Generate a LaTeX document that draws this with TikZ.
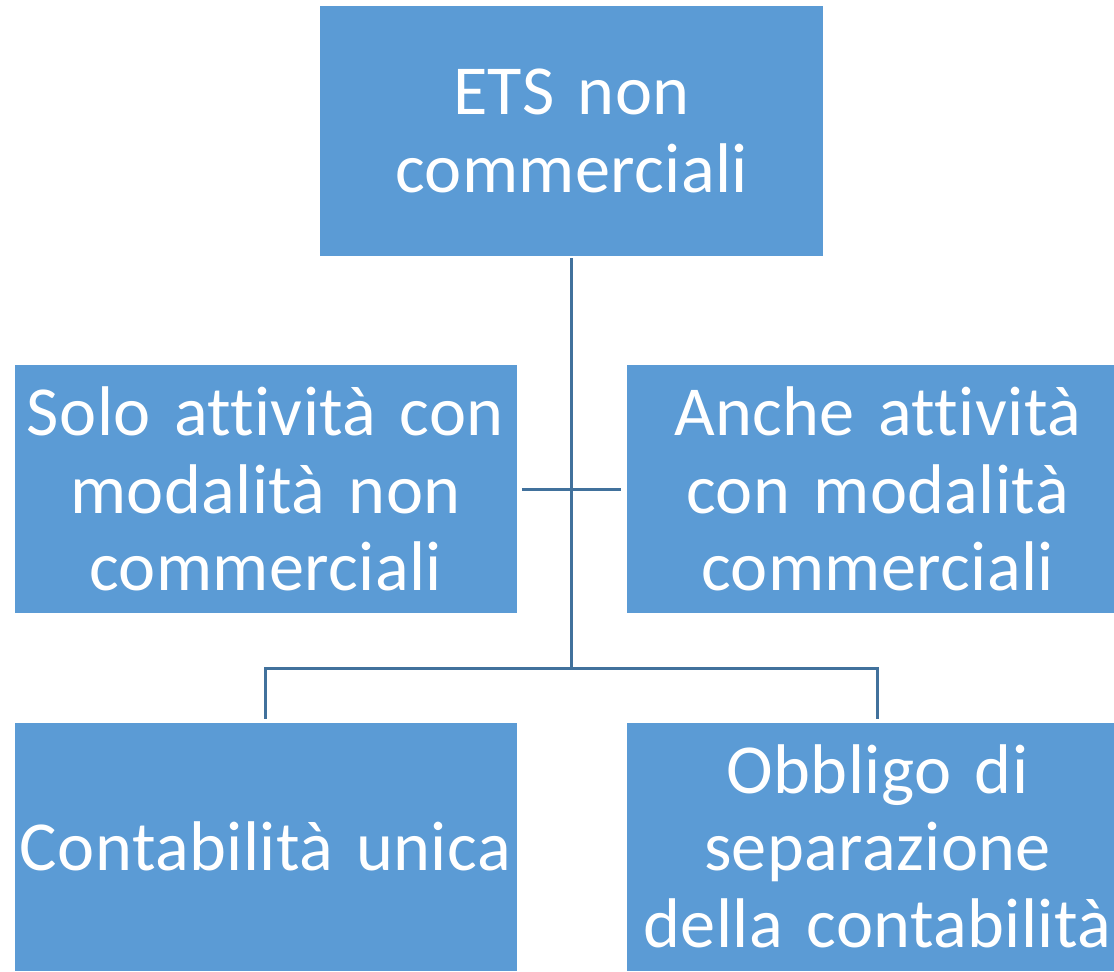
\documentclass[tikz,border=0pt]{standalone}
\usepackage{fontspec}
\setmainfont{Carlito}[Ligatures={NoCommon,NoRare}, WordSpace=0.75, LetterSpace=0.6]
\usetikzlibrary{positioning}
\definecolor{boxblu}{HTML}{5B9BD5}
\definecolor{lineablu}{HTML}{41719C}

\begin{document}
\begin{tikzpicture}[
    box/.style={fill=boxblu, text=white, minimum width=10.04cm, minimum height=4.96cm,
                text width=10cm, align=center, inner sep=0pt,
                font=\fontsize{40}{44}\selectfont},
    linea/.style={draw=lineablu, line width=1.7pt}
  ]
  \useasboundingbox (0,0) rectangle (22.28,-19.42);

  % Nodo principale
  \node[box, minimum width=10.06cm, minimum height=5cm] (ets) at (11.43,-2.62) {ETS non\\commerciali};

  % Secondo livello
  \node[box] (solo) at (5.31,-9.78) {Solo attività con\\modalità non\\commerciali};
  \node[box] (anche) at (17.55,-9.78) {Anche attività\\con modalità\\commerciali};

  % Terzo livello
  \node[box] (unica) at (5.31,-16.93) {Contabilità unica};
  \node[box] (separa) at (17.55,-16.93) {Obbligo di\\separazione\\della contabilità};

  % Collegamenti
  \coordinate (snodo) at (ets.south |- 0,-13.36);
  \draw[linea, shorten <=0.04cm] (ets.south) -- (snodo);
  \draw[linea, shorten <=0.1cm, shorten >=0.1cm] (solo.east) -- (anche.west);
  \draw[linea, shorten >=0.06cm] (snodo) -| (unica.north);
  \draw[linea, shorten >=0.06cm] (snodo) -| (separa.north);

\end{tikzpicture}
\end{document}
